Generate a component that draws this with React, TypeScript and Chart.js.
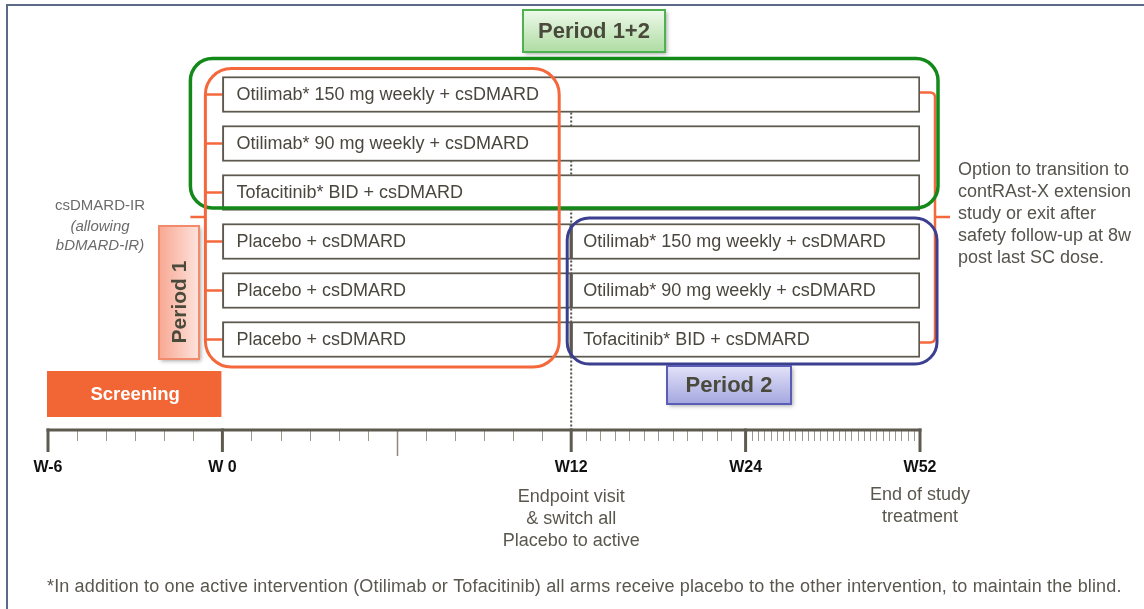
import React, { useEffect, useRef } from "react";
import { Chart, registerables } from "chart.js";

Chart.register(...registerables);

// ---------- data ----------
const ROW_IDS = ["arm1", "arm2", "arm3", "arm4", "arm5", "arm6"];
const PERIOD1_LABELS = [
  "Otilimab* 150 mg weekly + csDMARD",
  "Otilimab* 90 mg weekly + csDMARD",
  "Tofacitinib* BID + csDMARD",
  "Placebo + csDMARD",
  "Placebo + csDMARD",
  "Placebo + csDMARD",
];
const PERIOD2_LABELS = [
  null,
  null,
  null,
  "Otilimab* 150 mg weekly + csDMARD",
  "Otilimab* 90 mg weekly + csDMARD",
  "Tofacitinib* BID + csDMARD",
];
const PERIOD1_START = [0, 0, 0, 0, 0, 0];
const PERIOD1_END = [52, 52, 52, 12, 12, 12];
const PERIOD2_START = [null, null, null, 12, 12, 12];
const PERIOD2_END = [null, null, null, 52, 52, 52];

// timeline scale (piecewise: each segment gets its own share of the axis)
const SCALE_WEEKS = [-6, 0, 12, 24, 52];
const SCALE_UNITS = [0, 1, 3, 4, 5];
const MAJOR_WEEKS = [-6, 0, 12, 24, 52];
const MAJOR_LABELS = ["W-6", "W 0", "W12", "W24", "W52"];
const LONG_MINOR_WEEKS = [6];
const SCREENING_WEEKS = [-6, 0];
const ENDPOINT_WEEK = 12;
const ENDPOINT_NOTE = ["Endpoint visit", "& switch all", "Placebo to active"];
const END_WEEK = 52;
const END_NOTE = ["End of study", "treatment"];
const LEFT_NOTE = ["csDMARD-IR", "(allowing", "bDMARD-IR)"];
const RIGHT_NOTE = [
  "Option to transition to",
  "contRAst-X extension",
  "study or exit after",
  "safety follow-up at 8w",
  "post last SC dose.",
];
const FOOTNOTE =
  "*In addition to one active intervention (Otilimab or Tofacitinib) all arms receive placebo to the other intervention, to maintain the blind.";

// ---------- helpers ----------
const FONT = '"Liberation Sans", Arial, Helvetica, sans-serif';

function weekToUnit(w: number): number {
  for (let i = 0; i < SCALE_WEEKS.length - 1; i++) {
    const a = SCALE_WEEKS[i];
    const b = SCALE_WEEKS[i + 1];
    if (w <= b || i === SCALE_WEEKS.length - 2) {
      return SCALE_UNITS[i] + ((w - a) / (b - a)) * (SCALE_UNITS[i + 1] - SCALE_UNITS[i]);
    }
  }
  return 0;
}

function rr(ctx: CanvasRenderingContext2D, x: number, y: number, w: number, h: number, r: number) {
  ctx.beginPath();
  ctx.moveTo(x + r, y);
  ctx.lineTo(x + w - r, y);
  ctx.arcTo(x + w, y, x + w, y + r, r);
  ctx.lineTo(x + w, y + h - r);
  ctx.arcTo(x + w, y + h, x + w - r, y + h, r);
  ctx.lineTo(x + r, y + h);
  ctx.arcTo(x, y + h, x, y + h - r, r);
  ctx.lineTo(x, y + r);
  ctx.arcTo(x, y, x + r, y, r);
  ctx.closePath();
}

function labelBox(
  ctx: CanvasRenderingContext2D,
  x: number,
  y: number,
  w: number,
  h: number,
  c1: string,
  c2: string,
  border: string,
  vertical: boolean
) {
  ctx.save();
  const g = vertical ? ctx.createLinearGradient(x, 0, x + w, 0) : ctx.createLinearGradient(0, y, 0, y + h);
  g.addColorStop(0, c1);
  g.addColorStop(1, c2);
  ctx.shadowColor = "rgba(0,0,0,0.35)";
  ctx.shadowBlur = 4;
  ctx.shadowOffsetX = 2;
  ctx.shadowOffsetY = 2;
  ctx.fillStyle = g;
  ctx.fillRect(x, y, w, h);
  ctx.shadowColor = "transparent";
  ctx.strokeStyle = border;
  ctx.lineWidth = 2;
  ctx.strokeRect(x, y, w, h);
  ctx.restore();
}

function setSpacing(ctx: any, v: string) {
  if ("letterSpacing" in ctx) ctx.letterSpacing = v;
}

const diagramPlugin = {
  id: "diagram",
  beforeDraw(chart: any) {
    const ctx: CanvasRenderingContext2D = chart.ctx;
    ctx.save();
    ctx.fillStyle = "#ffffff";
    ctx.fillRect(0, 0, chart.width, chart.height);
    ctx.strokeStyle = "#5b6a88";
    ctx.lineWidth = 2;
    ctx.beginPath();
    ctx.moveTo(7, chart.height);
    ctx.lineTo(7, 5);
    ctx.lineTo(chart.width, 5);
    ctx.stroke();
    ctx.restore();
  },
  beforeDatasetsDraw(chart: any) {
    const ctx: CanvasRenderingContext2D = chart.ctx;
    const xs = chart.scales.x;
    const ys = chart.scales.y;
    const px = (w: number) => xs.getPixelForValue(weekToUnit(w));
    const rowY = (i: number) => ys.getPixelForValue(i);
    const axisY = 430;
    ctx.save();
    // dotted line at endpoint
    ctx.strokeStyle = "#555048";
    ctx.lineWidth = 2;
    ctx.setLineDash([2, 2]);
    ctx.beginPath();
    ctx.moveTo(px(ENDPOINT_WEEK), rowY(0) + 18);
    ctx.lineTo(px(ENDPOINT_WEEK), axisY);
    ctx.stroke();
    ctx.setLineDash([]);

    // orange connectors on the left
    const x0 = px(0);
    ctx.strokeStyle = "#f4683c";
    ctx.lineWidth = 2.5;
    ROW_IDS.forEach((_, i) => {
      ctx.beginPath();
      ctx.moveTo(x0 - 17, rowY(i));
      ctx.lineTo(x0, rowY(i));
      ctx.stroke();
    });
    const midY = (rowY(0) + rowY(ROW_IDS.length - 1)) / 2;
    ctx.beginPath();
    ctx.moveTo(x0 - 32, midY);
    ctx.lineTo(x0 - 17, midY);
    ctx.stroke();

    // right brace
    const xe = px(END_WEEK);
    const bt = rowY(0) - 2;
    const bb = rowY(ROW_IDS.length - 1) + 3;
    const bx = xe + 15;
    ctx.beginPath();
    ctx.moveTo(xe, bt);
    ctx.lineTo(bx - 5, bt);
    ctx.quadraticCurveTo(bx, bt, bx, bt + 5);
    ctx.lineTo(bx, bb - 5);
    ctx.quadraticCurveTo(bx, bb, bx - 5, bb);
    ctx.lineTo(xe, bb);
    ctx.stroke();
    ctx.beginPath();
    ctx.moveTo(bx, midY);
    ctx.lineTo(bx + 15, midY);
    ctx.stroke();
    ctx.restore();
  },
  afterDatasetsDraw(chart: any) {
    const ctx: CanvasRenderingContext2D = chart.ctx;
    const xs = chart.scales.x;
    const ys = chart.scales.y;
    const px = (w: number) => xs.getPixelForValue(weekToUnit(w));
    const rowY = (i: number) => ys.getPixelForValue(i);
    const half = 18;
    ctx.save();
    // bar labels
    ctx.font = `18px ${FONT}`;
    ctx.fillStyle = "#4a473f";
    ctx.textBaseline = "middle";
    ctx.textAlign = "left";
    [PERIOD1_LABELS, PERIOD2_LABELS].forEach((labels, di) => {
      const meta = chart.getDatasetMeta(di);
      meta.data.forEach((el: any, i: number) => {
        const t = labels[i];
        if (!t) return;
        const p = el.getProps(["x", "y", "base"], true);
        const left = Math.min(p.x, p.base);
        ctx.fillText(t, left + (di === 0 ? 14 : 12), p.y + 1);
      });
    });

    const x0 = px(0);
    const x12 = px(12);
    const x52 = px(52);
    // green: period 1+2
    ctx.lineWidth = 3.5;
    ctx.strokeStyle = "#13891a";
    rr(ctx, x0 - 32, rowY(0) - half - 18, x52 + 18 - (x0 - 32), rowY(2) + 15.5 - (rowY(0) - half - 18), 22);
    ctx.stroke();
    // blue: period 2
    ctx.lineWidth = 3;
    ctx.strokeStyle = "#3b3f8f";
    rr(ctx, x12 - 4, rowY(3) - half - 5.5, x52 + 17 - (x12 - 4), rowY(5) + half + 6.5 - (rowY(3) - half - 5.5), 22);
    ctx.stroke();
    // orange: period 1
    ctx.strokeStyle = "#f4683c";
    rr(ctx, x0 - 17, rowY(0) - half - 8, x12 - 12 - (x0 - 17), rowY(5) + half + 9.5 - (rowY(0) - half - 8), 26);
    ctx.stroke();
    ctx.restore();
  },
  afterDraw(chart: any) {
    const ctx: CanvasRenderingContext2D = chart.ctx;
    const xs = chart.scales.x;
    const px = (w: number) => xs.getPixelForValue(weekToUnit(w));
    const axisY = 430;
    ctx.save();

    // minor ticks
    const wStart = SCALE_WEEKS[0];
    const wEnd = SCALE_WEEKS[SCALE_WEEKS.length - 1];
    for (let w = wStart; w <= wEnd; w++) {
      if (MAJOR_WEEKS.includes(w)) continue;
      const long = LONG_MINOR_WEEKS.includes(w);
      ctx.strokeStyle = long ? "#8d897f" : "#9a978e";
      ctx.lineWidth = long ? 1.5 : 1;
      const x = Math.round(px(w)) + 0.5;
      ctx.beginPath();
      ctx.moveTo(x, axisY);
      ctx.lineTo(x, axisY + (long ? 26 : 11));
      ctx.stroke();
    }
    // axis line
    ctx.strokeStyle = "#5e5a4f";
    ctx.lineWidth = 3;
    ctx.beginPath();
    ctx.moveTo(px(wStart) - 1.5, axisY);
    ctx.lineTo(px(wEnd) + 1.5, axisY);
    ctx.stroke();
    // major ticks + labels
    ctx.font = `bold 16px ${FONT}`;
    ctx.fillStyle = "#111111";
    ctx.textAlign = "center";
    ctx.textBaseline = "middle";
    MAJOR_WEEKS.forEach((w, i) => {
      const x = px(w);
      ctx.beginPath();
      ctx.moveTo(x, axisY - 1.5);
      ctx.lineTo(x, axisY + 22);
      ctx.stroke();
      ctx.fillText(MAJOR_LABELS[i], x, axisY + 38);
    });

    // notes under the axis
    ctx.font = `18px ${FONT}`;
    ctx.fillStyle = "#5a574e";
    ENDPOINT_NOTE.forEach((t, i) => ctx.fillText(t, px(ENDPOINT_WEEK), 497 + i * 22));
    END_NOTE.forEach((t, i) => ctx.fillText(t, px(END_WEEK), 495 + i * 22));

    // footnote
    ctx.font = `18px ${FONT}`;
    setSpacing(ctx, "0.15px");
    ctx.textAlign = "left";
    ctx.fillText(FOOTNOTE, 47, 587);
    setSpacing(ctx, "0px");

    // left note
    ctx.textAlign = "center";
    ctx.fillStyle = "#6b6b6b";
    ctx.font = `15px ${FONT}`;
    ctx.fillText(LEFT_NOTE[0], 100, 206);
    ctx.font = `italic 15px ${FONT}`;
    ctx.fillText(LEFT_NOTE[1], 100, 227);
    ctx.fillText(LEFT_NOTE[2], 100, 246);

    // right note
    ctx.textAlign = "left";
    ctx.fillStyle = "#55534c";
    ctx.font = `18px ${FONT}`;
    RIGHT_NOTE.forEach((t, i) => ctx.fillText(t, 958, 170 + i * 22));

    // screening box
    const s0 = px(SCREENING_WEEKS[0]);
    const s1 = px(SCREENING_WEEKS[1]);
    ctx.fillStyle = "#f26535";
    ctx.fillRect(s0 - 1, 371, s1 - s0, 46);
    ctx.fillStyle = "#ffffff";
    ctx.font = `bold 18.5px ${FONT}`;
    ctx.textAlign = "center";
    ctx.fillText("Screening", (s0 + s1) / 2, 395);

    // period label boxes
    labelBox(ctx, 523, 10, 142, 42, "#eef9ea", "#aedca3", "#4fb14f", false);
    ctx.fillStyle = "#4a4a3c";
    ctx.font = `bold 22px ${FONT}`;
    ctx.textAlign = "center";
    ctx.fillText("Period 1+2", 594, 32);

    labelBox(ctx, 667, 366, 124, 38, "#e2e2f8", "#a4a7df", "#5a5cb5", false);
    ctx.fillStyle = "#4a4a3c";
    ctx.fillText("Period 2", 729, 386);

    labelBox(ctx, 159, 226, 40, 133, "#f8a893", "#fde3dc", "#f28a6c", true);
    ctx.save();
    ctx.translate(180, 302);
    ctx.rotate(-Math.PI / 2);
    ctx.fillStyle = "#4a4a3c";
    ctx.font = `bold 21px ${FONT}`;
    ctx.fillText("Period 1", 0, 0);
    ctx.restore();

    ctx.restore();
  },
};

export default function App() {
  const ref = useRef<HTMLCanvasElement | null>(null);
  useEffect(() => {
    if (!ref.current) return;
    const p1 = PERIOD1_START.map((s, i) => [weekToUnit(s), weekToUnit(PERIOD1_END[i])]);
    const p2 = PERIOD2_START.map((s, i) =>
      s === null || PERIOD2_END[i] === null ? null : [weekToUnit(s), weekToUnit(PERIOD2_END[i] as number)]
    );
    const chart = new Chart(ref.current, {
      type: "bar",
      data: {
        labels: ROW_IDS,
        datasets: [
          {
            label: "Period 1 arms",
            data: p1 as any,
            backgroundColor: "#ffffff",
            borderColor: "#5d594f",
            borderWidth: 2,
            borderSkipped: false,
            barThickness: 36,
            grouped: false,
          },
          {
            label: "Period 2 arms",
            data: p2 as any,
            backgroundColor: "#ffffff",
            borderColor: "#5d594f",
            borderWidth: 2,
            borderSkipped: false,
            barThickness: 36,
            grouped: false,
          },
        ],
      },
      options: {
        indexAxis: "y",
        responsive: false,
        animation: false,
        events: [],
        layout: { padding: { left: 48, right: 224, top: 70, bottom: 245 } },
        scales: {
          x: { type: "linear", min: 0, max: 5, display: false },
          y: { type: "category", display: false, offset: true },
        },
        plugins: { legend: { display: false }, tooltip: { enabled: false } },
      },
      plugins: [diagramPlugin],
    });
    return () => chart.destroy();
  }, []);
  return (
    <div style={{ position: "fixed", left: 0, top: 0, width: 1144, height: 609, background: "#fff" }}>
      <canvas ref={ref} width={1144} height={609} style={{ display: "block", width: 1144, height: 609 }} />
    </div>
  );
}
